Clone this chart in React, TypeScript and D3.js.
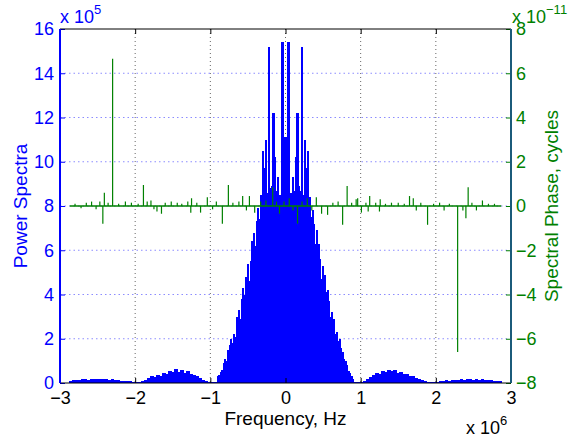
import React, { useRef, useEffect } from "react";
import * as d3 from "d3";

// power spectrum, in units of 1e5
// outer bins are 0.04 MHz wide, central bins 0.02 MHz wide
const outerLeftStart = -2.86;
const outerLeft = [
  0.08, 0.12, 0.14, 0.13, 0.16, 0.18, 0.15, 0.2, 0.17, 0.19, 0.16, 0.2, 0.18, 0.15, 0.17, 0.13, 0.12, 0.1, 0.11, 0.09, 0.07, 0.06,
  0.04, 0.05, 0.08, 0.15,
  0.22, 0.3, 0.25, 0.38, 0.32, 0.45, 0.4, 0.52, 0.48, 0.62, 0.5, 0.58, 0.45, 0.55, 0.42, 0.35, 0.3, 0.22, 0.15,
  0.08, 0.05, 0.04, 0.06,
];

const centralStart = -0.9;
const central = [
  0.3, 0.35, 0.5, 0.6, 0.9, 1.1, 1.0, 1.5, 1.7, 2.0, 1.8, 2.2, 2.1, 3.0, 3.3, 2.9, 3.8, 4.3, 4.0, 4.8,
  5.4, 4.6, 5.5, 6.4, 6.8, 6.2, 7.3, 7.9, 7.4, 8.5, 10.5, 9.7, 11.0, 8.6, 15.2, 8.8, 8.9, 12.2, 10.2, 8.7,
  9.3, 8.5, 8.4, 15.4, 10.3, 11.1, 10.3, 15.4, 8.4, 8.6, 9.3, 8.7, 10.2, 12.2, 8.9, 8.7, 15.2, 8.5, 11.0, 9.7,
  10.5, 8.4, 7.5, 7.8, 7.2, 6.3, 6.9, 6.3, 5.6, 4.7, 5.3, 4.9, 4.1, 4.2, 3.7, 3.0, 3.2, 2.9, 2.2, 2.3,
  1.9, 2.0, 1.6, 1.4, 1.1, 1.0, 0.8, 0.55, 0.45, 0.3, 0.2,
];

const outerRightStart = 0.94;
const outerRight = [
  0.06, 0.04, 0.05, 0.08,
  0.18, 0.28, 0.35, 0.45, 0.4, 0.55, 0.5, 0.6, 0.52, 0.58, 0.47, 0.5, 0.4, 0.42, 0.3, 0.32, 0.22, 0.18, 0.12,
  0.08, 0.06, 0.05, 0.04,
  0.06, 0.08, 0.1, 0.12, 0.11, 0.14, 0.13, 0.15, 0.17, 0.14, 0.16, 0.18, 0.15, 0.17, 0.14, 0.16, 0.13, 0.15, 0.12, 0.11, 0.09, 0.07,
];

// spectral phase spikes (MHz, units of 1e-11 cycles)
const phaseFreq = [
  -2.8, -2.72, -2.65, -2.58, -2.52, -2.47, -2.43, -2.41, -2.36, -2.3, -2.22, -2.13, -2.05, -1.96, -1.89, -1.84,
  -1.79, -1.75, -1.71, -1.65, -1.6, -1.52, -1.44, -1.38, -1.3, -1.26, -1.25, -1.18, -1.13, -1.04, -0.97, -0.92,
  -0.84, -0.76, -0.7, -0.62, -0.57, -0.52, -0.48, -0.41, -0.33, -0.26, -0.17, -0.12, -0.08, -0.02, 0.05, 0.1,
  0.16, 0.22, 0.29, 0.35, 0.41, 0.48, 0.56, 0.63, 0.7, 0.76, 0.82, 0.88, 0.94, 0.96, 1.01, 1.07,
  1.1, 1.12, 1.2, 1.25, 1.26, 1.33, 1.41, 1.5, 1.58, 1.65, 1.7, 1.74, 1.8, 1.89, 1.97, 2.05,
  2.11, 2.18, 2.29, 2.36, 2.4, 2.43, 2.48, 2.54, 2.62, 2.7, 2.78,
];
const phaseVal = [
  0.1, -0.1, 0.15, 0.2, -0.15, 0.2, -0.8, 0.6, 0.15, 6.65, 0.1, 0.2, 0.15, 0.1, 0.95, 0.2,
  0.25, -0.15, -0.25, -0.35, 0.15, 0.2, 0.15, 0.1, 0.2, -0.3, 0.35, 0.15, -0.3, 0.4, -0.15, 0.2,
  -0.8, 0.95, 0.15, 0.2, 0.45, -0.2, 0.45, -0.3, 0.2, 0.25, 0.85, 0.2, -0.35, 0.2, 0.35, -0.2,
  -0.8, 0.2, 0.35, -0.2, 0.4, -0.35, -0.4, 0.15, 0.2, -0.85, 0.9, 0.15, 0.3, 0.35, -0.3, 0.15,
  -0.25, 0.45, 0.15, -0.25, 0.3, 0.1, 0.15, 0.15, 0.1, 0.45, 0.35, -0.2, 0.15, -0.85, 0.1, 0.15,
  -0.2, 0.1, -6.6, -0.2, -0.55, 0.85, 0.15, -0.2, 0.25, 0.1, 0.1,
];
const phaseSpan = [-2.87, 2.87];

const xTicks = [-3, -2, -1, 0, 1, 2, 3];
const leftTicks = [0, 2, 4, 6, 8, 10, 12, 14, 16];
const rightTicks = [-8, -6, -4, -2, 0, 2, 4, 6, 8];

const BLUE = "#0000ff";
const GREEN = "#008000";
const FONT = "'Liberation Sans', Arial, Helvetica, sans-serif";

const App = () => {
  const svgRef = useRef<SVGSVGElement>(null);

  useEffect(() => {
    const width = 573;
    const height = 442;
    const margin = { top: 29, bottom: 59, left: 60, right: 62 };

    const svg = d3.select(svgRef.current);
    svg.selectAll("*").remove();

    const x = d3.scaleLinear().domain([-3, 3]).range([margin.left, width - margin.right]);
    const yL = d3.scaleLinear().domain([0, 16]).range([height - margin.bottom, margin.top]);
    const yR = d3.scaleLinear().domain([-8, 8]).range([height - margin.bottom, margin.top]);

    // grid
    svg
      .append("g")
      .selectAll("line")
      .data(xTicks.slice(1, -1))
      .join("line")
      .attr("x1", (d) => x(d))
      .attr("x2", (d) => x(d))
      .attr("y1", margin.top)
      .attr("y2", height - margin.bottom)
      .attr("stroke", "#666")
      .attr("stroke-width", 1)
      .attr("stroke-dasharray", "1,3");

    svg
      .append("g")
      .selectAll("line")
      .data(leftTicks.slice(1, -1))
      .join("line")
      .attr("x1", margin.left)
      .attr("x2", width - margin.right)
      .attr("y1", (d) => yL(d))
      .attr("y2", (d) => yL(d))
      .attr("stroke", "#8c8cff")
      .attr("stroke-width", 1)
      .attr("stroke-dasharray", "1.5,3");

    // spectrum bins
    const toBins = (start: number, step: number, vals: number[]) =>
      vals.map((v, i) => ({ f: start + i * step, w: step, v }));
    const bins = [
      ...toBins(outerLeftStart, 0.04, outerLeft),
      ...toBins(centralStart, 0.02, central),
      ...toBins(outerRightStart, 0.04, outerRight),
    ];

    // bars overlap a little and are drawn crisp, so no seams show between them
    svg
      .append("g")
      .attr("class", "bars")
      .attr("shape-rendering", "crispEdges")
      .selectAll("rect")
      .data(bins)
      .join("rect")
      .attr("x", (d) => x(d.f - d.w / 2) - 0.3)
      .attr("width", (d) => x(d.f + d.w / 2) - x(d.f - d.w / 2) + 0.6)
      .attr("y", (d) => yL(d.v))
      .attr("height", (d) => yL(0) - yL(d.v))
      .attr("fill", BLUE);

    // phase
    svg
      .append("line")
      .attr("x1", x(phaseSpan[0]))
      .attr("x2", x(phaseSpan[1]))
      .attr("y1", yR(0))
      .attr("y2", yR(0))
      .attr("stroke", GREEN)
      .attr("stroke-width", 1.6);

    svg
      .append("g")
      .selectAll("line")
      .data(phaseFreq.map((f, i) => ({ f, v: phaseVal[i] })))
      .join("line")
      .attr("x1", (d) => x(d.f))
      .attr("x2", (d) => x(d.f))
      .attr("y1", yR(0))
      .attr("y2", (d) => yR(d.v))
      .attr("stroke", GREEN)
      .attr("stroke-width", 1.2);

    // axes
    const styleAxis = (g: any, color: string) => {
      g.select(".domain").remove();
      g.selectAll(".tick line").attr("stroke", color);
      g.selectAll(".tick text")
        .attr("fill", color)
        .style("font-family", FONT)
        .style("font-size", "18px");
    };

    const fmt = (d: any) => d3.format("")(d).replace("-", "\u2212");

    svg
      .append("g")
      .attr("transform", `translate(0, ${height - margin.bottom})`)
      .call(d3.axisBottom(x).tickValues(xTicks).tickFormat(fmt).tickSizeInner(-5).tickSizeOuter(0).tickPadding(8))
      .call((g: any) => styleAxis(g, "#000"));

    svg
      .append("g")
      .attr("transform", `translate(0, ${margin.top})`)
      .call(d3.axisTop(x).tickValues(xTicks).tickFormat(() => "").tickSizeInner(-5).tickSizeOuter(0))
      .call((g: any) => styleAxis(g, "#000"));

    svg
      .append("g")
      .attr("transform", `translate(${margin.left}, 0)`)
      .call(d3.axisLeft(yL).tickValues(leftTicks).tickFormat(fmt).tickSizeInner(-5).tickSizeOuter(0).tickPadding(6))
      .call((g: any) => styleAxis(g, BLUE));

    svg
      .append("g")
      .attr("transform", `translate(${width - margin.right}, 0)`)
      .call(d3.axisRight(yR).tickValues(rightTicks).tickFormat(fmt).tickSizeInner(-5).tickSizeOuter(0).tickPadding(5))
      .call((g: any) => styleAxis(g, GREEN));

    // box
    svg
      .append("line")
      .attr("x1", margin.left)
      .attr("x2", width - margin.right)
      .attr("y1", margin.top)
      .attr("y2", margin.top)
      .attr("stroke", "#000");
    svg
      .append("line")
      .attr("x1", margin.left)
      .attr("x2", width - margin.right)
      .attr("y1", height - margin.bottom)
      .attr("y2", height - margin.bottom)
      .attr("stroke", "#000");
    svg
      .append("line")
      .attr("x1", margin.left)
      .attr("x2", margin.left)
      .attr("y1", margin.top)
      .attr("y2", height - margin.bottom)
      .attr("stroke", BLUE)
      .attr("stroke-width", 2);
    svg
      .append("line")
      .attr("x1", width - margin.right)
      .attr("x2", width - margin.right)
      .attr("y1", margin.top)
      .attr("y2", height - margin.bottom)
      .attr("stroke", "#1b5b7a")
      .attr("stroke-width", 2);

    // exponent labels
    const expLabel = (px: number, py: number, sup: string, color: string) => {
      const t = svg
        .append("text")
        .attr("x", px)
        .attr("y", py)
        .attr("fill", color)
        .style("font-family", FONT)
        .style("font-size", "18px");
      t.append("tspan").text("x 10");
      t.append("tspan").attr("dy", -9).style("font-size", "13px").text(sup);
    };
    expLabel(margin.left, 23, "5", BLUE);
    expLabel(width - margin.right + 1, 23, "\u221211", GREEN);
    expLabel(466, 434, "6", "#000");

    // axis titles
    svg
      .append("text")
      .attr("x", x(0))
      .attr("y", 425)
      .attr("text-anchor", "middle")
      .style("font-family", FONT)
      .style("font-size", "19px")
      .text("Frequency, Hz");

    svg
      .append("text")
      .attr("transform", `translate(27, ${yL(8)}) rotate(-90)`)
      .attr("text-anchor", "middle")
      .attr("fill", BLUE)
      .style("font-family", FONT)
      .style("font-size", "19px")
      .text("Power Spectra");

    svg
      .append("text")
      .attr("transform", `translate(558, ${yR(0)}) rotate(-90)`)
      .attr("text-anchor", "middle")
      .attr("fill", GREEN)
      .style("font-family", FONT)
      .style("font-size", "19px")
      .text("Spectral Phase, cycles");
  }, []);

  return (
    <div style={{ position: "absolute", left: 0, top: 0, background: "#fff" }}>
      <svg ref={svgRef} width={573} height={442} style={{ display: "block" }} />
    </div>
  );
};

export default App;
